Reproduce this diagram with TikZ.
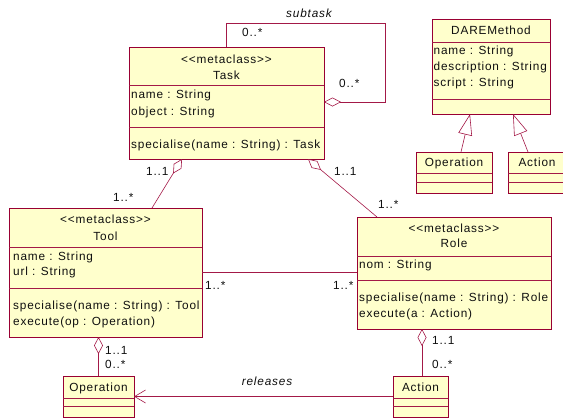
\documentclass[tikz,border=0pt]{standalone}
\usepackage{fontspec}
\setmainfont[LetterSpace=7, Ligatures=TeXOff]{Liberation Sans}
\usetikzlibrary{arrows.meta}
\definecolor{umlred}{RGB}{153,0,51}
\definecolor{umlfill}{RGB}{255,255,204}
\definecolor{txt}{RGB}{15,15,15}
\newcommand\umlbox[5]{%
  \node[cls, minimum width=#4pt, minimum height=#5pt] (#1) at (#2,#3) {};
  \draw[shadowline] ([shift={(0.8,0.8)}]#1.north east) -- ([shift={(0.8,0.8)}]#1.south east) -- ([shift={(0.8,0.8)}]#1.south west);
}
\begin{document}
\begin{tikzpicture}[x=1pt,y=-1pt,
  font=\fontsize{11.8}{13}\selectfont,
  cls/.style={draw=umlred, fill=umlfill, line width=0.8pt, inner sep=0pt, outer sep=0pt, rectangle},
  shadowline/.style={draw=umlred, line width=1pt},
  sepline/.style={draw=umlred!90, line width=0.7pt},
  lbl/.style={text=txt, inner sep=0pt, anchor=base west},
  ctr/.style={text=txt, inner sep=0pt, anchor=base},
  link/.style={draw=umlred!90, line width=0.6pt},
  agg/.style={link, -{Diamond[open, length=17pt, width=9pt]}},
  gen/.style={link, -{Triangle[open, length=21pt, width=14pt]}},
  nav/.style={link, -{Straight Barb[length=11pt, width=13pt]}}]
\useasboundingbox (0,0) rectangle (563,418);

% ---------- Task ----------
\umlbox{task}{226.5}{103}{195}{112}
\draw[sepline] (129,85) -- (324,85);
\draw[sepline] (129,127) -- (324,127);
\node[ctr] (taskst) at (226.5,63) {<<metaclass>>};
\node[ctr] (taskname) at (226.5,79) {Task};
\node[lbl] (taska1) at (131,98.5) {name : String};
\node[lbl] (taska2) at (131,115) {object : String};
\node[lbl] (taskm1) at (131,148) {specialise(name : String) : Task};

% ---------- DAREMethod ----------
\umlbox{dare}{491}{66.5}{118}{95}
\draw[sepline] (432,42) -- (550,42);
\draw[sepline] (432,99) -- (550,99);
\node[ctr] (darename) at (491,34) {DAREMethod};
\node[lbl] (darea1) at (433.5,54) {name : String};
\node[lbl] (darea2) at (433.5,70) {description : String};
\node[lbl] (darea3) at (433.5,86) {script : String};

% ---------- Operation (top) ----------
\umlbox{opa}{454}{172.5}{76}{41}
\draw[sepline] (416,173) -- (492,173);
\draw[sepline] (416,182) -- (492,182);
\node[ctr] (opaname) at (454,166.7) {Operation};

% ---------- Action (top) ----------
\umlbox{acta}{537}{172.5}{58}{41}
\draw[sepline] (508,173) -- (566,173);
\draw[sepline] (508,182) -- (566,182);
\node[ctr] (actaname) at (537,166.7) {Action};

% ---------- Tool ----------
\umlbox{tool}{105.5}{272.5}{193}{129}
\draw[sepline] (9,247) -- (202,247);
\draw[sepline] (9,288) -- (202,288);
\node[ctr] (toolst) at (105.5,223.3) {<<metaclass>>};
\node[ctr] (toolname) at (105.5,240) {Tool};
\node[lbl] (toola1) at (13,260) {name : String};
\node[lbl] (toola2) at (13,275.7) {url : String};
\node[lbl] (toolm1) at (13,309) {specialise(name : String) : Tool};
\node[lbl] (toolm2) at (13,325.7) {execute(op : Operation)};

% ---------- Role ----------
\umlbox{role}{454}{273}{194}{112}
\draw[sepline] (357,256) -- (551,256);
\draw[sepline] (357,280) -- (551,280);
\node[ctr] (rolest) at (454,232.3) {<<metaclass>>};
\node[ctr] (rolename) at (454,247.7) {Role};
\node[lbl] (rolea1) at (359,268.3) {nom : String};
\node[lbl] (rolem1) at (359,301) {specialise(name : String) : Role};
\node[lbl] (rolem2) at (359,317.7) {execute(a : Action)};

% ---------- Operation (bottom) ----------
\umlbox{opb}{98.5}{396.5}{71}{41}
\draw[sepline] (63,398) -- (134,398);
\draw[sepline] (63,406) -- (134,406);
\node[ctr] (opbname) at (98.5,391) {Operation};

% ---------- Action (bottom) ----------
\umlbox{actb}{420.5}{396.5}{55}{41}
\draw[sepline] (393,398) -- (448,398);
\draw[sepline] (393,406) -- (448,406);
\node[ctr] (actbname) at (420.5,391) {Action};

% ---------- connectors ----------
% subtask self-aggregation
\draw[agg] ([xshift=97pt]task.north west) -- ++(0,-24) -- ++(159,0) -- ++(0,79) -- ([yshift=1pt]task.east);
\node[ctr, font=\fontsize{11.8}{13}\selectfont\itshape] (subtasklbl) at (309,17.3) {subtask};
\node[lbl] (sub1) at (242,36) {0..*};
\node[lbl] (sub2) at (339,87.7) {0..*};

% Tool -- Task
\draw[agg] ([xshift=143pt]tool.north west) -- ([xshift=53pt]task.south west);
\node[lbl] (tt1) at (146,175) {1..1};
\node[lbl] (tt2) at (113,201.7) {1..*};

% Role -- Task
\draw[agg] ([xshift=20pt]role.north west) -- ([xshift=179pt]task.south west);
\node[lbl] (rt1) at (334,175) {1..1};
\node[lbl] (rt2) at (378,208) {1..*};

% Tool -- Role
\draw[link] ([yshift=0.5pt]tool.east) -- ([yshift=0.5pt]tool.east -| role.west);
\node[lbl] (tr1) at (205,289) {1..*};
\node[lbl] (tr2) at (333,289) {1..*};

% Tool -- Operation
\draw[agg] (opb.north) -- (opb.north |- tool.south);
\node[lbl] (to1) at (105,354.3) {1..1};
\node[lbl] (to2) at (105,368.3) {0..*};

% Role -- Action
\draw[agg] ([xshift=1.5pt]actb.north) -- ([xshift=1.5pt]actb.north |- role.south);
\node[lbl] (ra1) at (432,344.3) {1..1};
\node[lbl] (ra2) at (432,368.3) {0..*};

% releases
\draw[nav] (actb.west) -- (opb.east);
\node[ctr, font=\fontsize{11.8}{13}\selectfont\itshape] (relLbl) at (267,385.7) {releases};

% generalisations
\draw[gen] ([xshift=45pt]opa.north west) -- ([xshift=38pt]dare.south west);
\draw[gen] ([xshift=20pt]acta.north west) -- ([xshift=81pt]dare.south west);
\end{tikzpicture}
\end{document}
